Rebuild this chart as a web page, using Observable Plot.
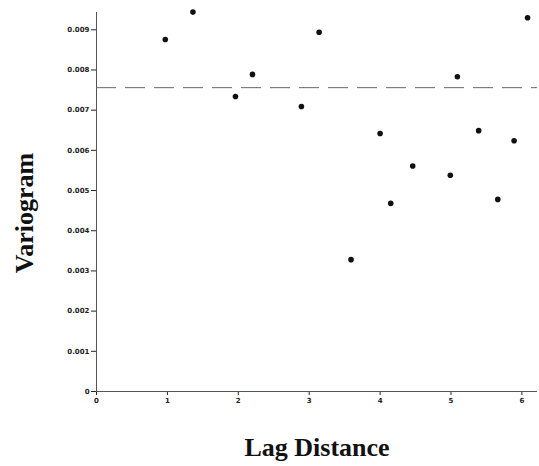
<!DOCTYPE html>
<html><head><meta charset="utf-8">
<script src="https://cdn.jsdelivr.net/npm/d3@7"></script>
<script src="https://cdn.jsdelivr.net/npm/@observablehq/plot@0.6"></script>
<style>body{margin:0;background:#fff}</style>
</head><body><div id="chart"></div>
<script>
const lag = [0.97, 1.36, 1.96, 2.20, 2.89, 3.14, 3.59, 4.00, 4.15, 4.46, 4.99, 5.09, 5.39, 5.66, 5.89, 6.08];
const gamma = [0.00876, 0.00944, 0.00734, 0.00789, 0.00709, 0.00894, 0.00328, 0.00642, 0.00468, 0.00561, 0.00538, 0.00783, 0.00649, 0.00478, 0.00624, 0.00930];
const sill = 0.00756;
const xTicks = [0, 1, 2, 3, 4, 5, 6];
const yTicks = [0, 0.001, 0.002, 0.003, 0.004, 0.005, 0.006, 0.007, 0.008, 0.009];
const xTitle = "Lag Distance";
const yTitle = "Variogram";

const data = lag.map((d, i) => ({lag: d, gamma: gamma[i]}));

const chart = Plot.plot({
  width: 539, height: 466,
  marginLeft: 96, marginRight: 2, marginTop: 12, marginBottom: 75,
  style: {fontFamily: "'DejaVu Sans', sans-serif", background: "#fff", color: "#222"},
  x: {domain: [0, 6.22]},
  y: {domain: [0, 0.00943]},
  marks: [
    Plot.axisX({ticks: xTicks, tickFormat: d => String(d), label: null, tickSize: 4, fontSize: 7, fontWeight: "bold", tickPadding: 3}),
    Plot.axisY({ticks: yTicks, tickFormat: d => d === 0 ? "0" : d.toFixed(3), label: null, tickSize: 5, fontSize: 7, fontWeight: "bold", tickPadding: 2}),
    Plot.ruleX([0], {stroke: "#555", strokeWidth: 1}),
    Plot.ruleY([0], {stroke: "#555", strokeWidth: 1}),
    Plot.ruleY([sill], {stroke: "#666", strokeWidth: 1, strokeDasharray: "20,9"}),
    Plot.dot(data, {x: "lag", y: "gamma", r: 2.8, fill: "#111", stroke: "none"}),
    Plot.text([yTitle], {frameAnchor: "left", textAnchor: "middle", lineAnchor: "middle", rotate: -90, dx: -72, dy: 11, fontSize: 26, fontWeight: "bold", fontFamily: "'Liberation Serif', serif", fill: "#111"}),
    Plot.text([xTitle], {frameAnchor: "bottom", textAnchor: "middle", lineAnchor: "middle", dy: 56, fontSize: 26, fontWeight: "bold", fontFamily: "'Liberation Serif', serif", fill: "#111"})
  ]
});
document.getElementById("chart").appendChild(chart);
</script>
</body></html>
